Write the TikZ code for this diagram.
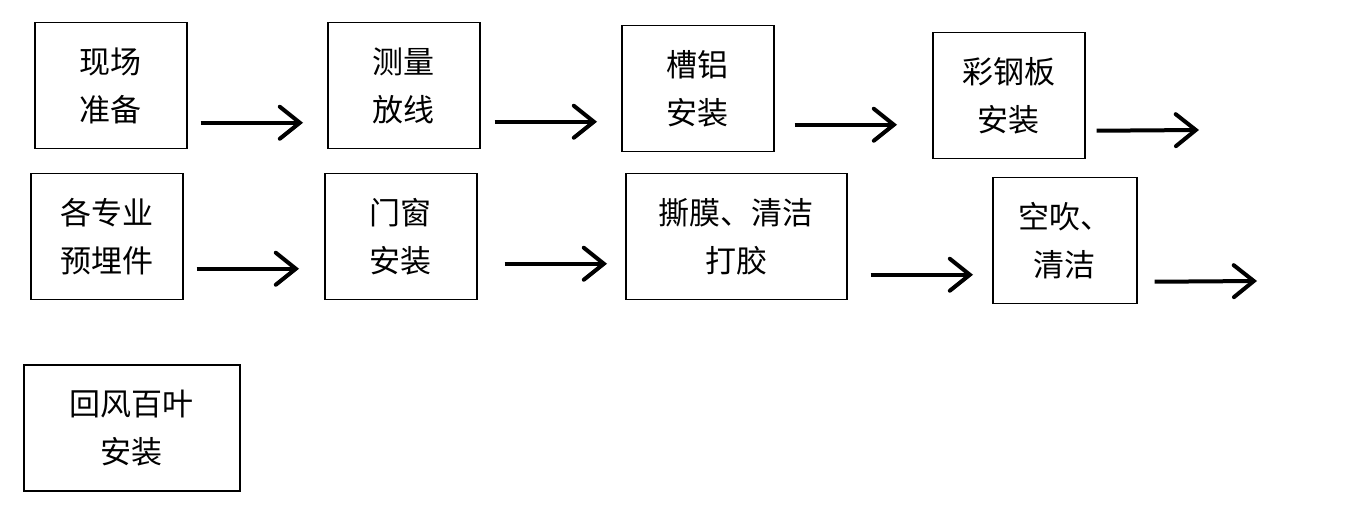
\documentclass[tikz,border=0pt]{standalone}
\usepackage{fontspec}
\newfontfamily\cjk{Noto Sans CJK SC}
\usetikzlibrary{arrows.meta}
\begin{document}
\begin{tikzpicture}[x=1pt,y=-1pt,
  stepbox/.style={draw,line width=1.5pt,inner sep=0pt,anchor=north west,
    font=\cjk\fontsize{31}{48}\selectfont,align=center},
  flow/.style={line width=4pt,-{Straight Barb[length=20pt,width=32pt,line width=4pt,line cap=round]}}]
\useasboundingbox (0,0) rectangle (1348,526);
\node[stepbox,minimum width=152pt,minimum height=126pt] (a1) at (34,22) {现场\\准备};
\node[stepbox,minimum width=152pt,minimum height=126pt] (a2) at (327,22) {测量\\放线};
\node[stepbox,minimum width=152pt,minimum height=126pt] (a3) at (621,25) {槽铝\\安装};
\node[stepbox,minimum width=152pt,minimum height=126pt] (a4) at (932,32) {彩钢板\\安装};
\node[stepbox,minimum width=152pt,minimum height=126pt] (b1) at (30,173) {各专业\\预埋件};
\node[stepbox,minimum width=152pt,minimum height=126pt] (b2) at (324,173) {门窗\\安装};
\node[stepbox,minimum width=221pt,minimum height=126pt] (b3) at (625,173) {撕膜、清洁\\打胶};
\node[stepbox,minimum width=144pt,minimum height=126pt] (b4) at (992,177) {空吹、\\清洁};
\node[stepbox,minimum width=216pt,minimum height=126pt] (c1) at (23,364) {回风百叶\\安装};
\coordinate (e1) at (1199,130);
\coordinate (e2) at (1257,281);
\draw[flow] ([xshift=13pt,yshift=-37pt]a1.east) -- ([xshift=-24pt,yshift=-37pt]a2.west);
\draw[flow] ([xshift=14pt,yshift=-36pt]a2.east) -- ([xshift=-24pt,yshift=-33pt]a3.west);
\draw[flow] ([xshift=20pt,yshift=-36pt]a3.east) -- ([xshift=-35pt,yshift=-29pt]a4.west);
\draw[flow] ([xshift=11pt,yshift=-35pt]a4.east) -- (e1);
\draw[flow] ([xshift=13pt,yshift=-32pt]b1.east) -- ([xshift=-25pt,yshift=-32pt]b2.west);
\draw[flow] ([xshift=27pt,yshift=-27pt]b2.east) -- ([xshift=-18pt,yshift=-27pt]b3.west);
\draw[flow] ([xshift=23pt,yshift=-38pt]b3.east) -- ([xshift=-19pt,yshift=-34pt]b4.west);
\draw[flow] ([xshift=17pt,yshift=-41pt]b4.east) -- (e2);
\end{tikzpicture}
\end{document}
